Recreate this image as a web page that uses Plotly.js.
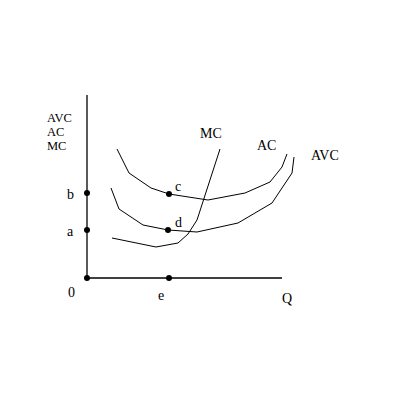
<!DOCTYPE html>
<html><head><meta charset="utf-8">
<script src="https://cdn.plot.ly/plotly-3.0.1.min.js"></script>
<style>html,body{margin:0;padding:0;background:#fff}#c{width:400px;height:400px}</style>
</head><body><div id="c"></div>
<script>
// Quantity (x) and cost (y) values, origin at 0
const acQ   = [30, 42, 64, 82, 121, 158, 183, 195, 200];
const acC   = [129, 105, 90, 84, 78, 85, 96, 111, 124];
const avcQ  = [24, 32, 56, 81, 110, 151, 185, 205, 207];
const avcC  = [90, 69, 53, 48, 46, 55, 75, 105, 121];
const mcQ   = [25, 69, 91, 101, 110, 133];
const mcC   = [40, 31, 35, 44, 58, 129];
const axisYTop = 183;
const axisXEnd = 195;
const pointNames = ["0", "b", "a", "c", "d", "e"];
const pointQ = [0, 0, 0, 82, 81, 82];
const pointC = [0, 85, 48, 84, 48, 0];

const line = {color: '#000', width: 1};
const traces = [
  {x: [0, 0], y: [0, axisYTop], mode: 'lines', line: {color: '#000', width: 1.3}},
  {x: [0, axisXEnd], y: [0, 0], mode: 'lines', line: {color: '#000', width: 1.3}},
  {x: acQ, y: acC, mode: 'lines', line: line},
  {x: avcQ, y: avcC, mode: 'lines', line: line},
  {x: mcQ, y: mcC, mode: 'lines', line: line},
  {x: pointQ, y: pointC, text: pointNames, mode: 'markers', marker: {color: '#000', size: 6}}
];

const FAM = 'Liberation Serif, Times New Roman, serif';
function ann(text, x, y, xanchor, size) {
  return {text, x, y, xref: 'x', yref: 'y', showarrow: false, borderpad: 0,
          font: {family: FAM, size: size || 14, color: '#000'},
          xanchor: xanchor || 'center', yanchor: 'middle'};
}
const annotations = [
  ann('AVC', -41, 160, 'left', 12.5),
  ann('AC', -41, 146, 'left', 12.5),
  ann('MC', -41, 132, 'left', 12.5),
  ann('b', -17, 84), ann('a', -17, 47), ann('0', -16, -14), ann('e', 74, -17),
  ann('c', 91, 92), ann('d', 91, 56), ann('Q', 200, -20),
  ann('MC', 124, 145), ann('AC', 179, 133), ann('AVC', 238, 123)
];

Plotly.newPlot('c', traces, {
  width: 400, height: 400, margin: {l: 0, r: 0, t: 0, b: 0},
  paper_bgcolor: '#fff', plot_bgcolor: '#fff', showlegend: false,
  xaxis: {range: [-87, 313], visible: false, fixedrange: true},
  yaxis: {range: [-122, 278], visible: false, fixedrange: true},
  annotations
}, {displayModeBar: false, staticPlot: true});
</script></body></html>
